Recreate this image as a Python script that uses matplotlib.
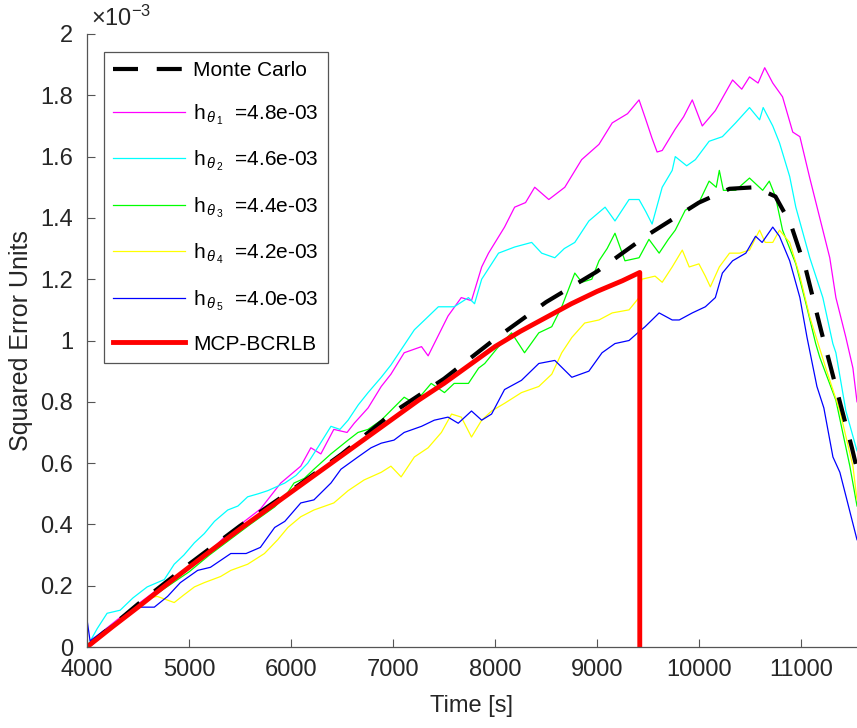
import numpy as np
import matplotlib
matplotlib.use("Agg")
import matplotlib.pyplot as plt
from matplotlib.ticker import FuncFormatter

plt.rcParams['font.family'] = ['Liberation Sans', 'DejaVu Sans']
plt.rcParams['mathtext.fontset'] = 'custom'
plt.rcParams['mathtext.rm'] = 'Liberation Sans'
plt.rcParams['mathtext.it'] = 'Liberation Sans:italic'

# squared error, in units of 1e-3
t_mc = [4000, 4500, 5000, 5500, 6000, 6500, 7000, 7500, 8000, 8500, 9000, 9500,
        10000, 10300, 10550, 10750, 10900, 11050, 11200, 11350, 11500, 11550]
v_mc = [0.0, 0.14, 0.27, 0.395, 0.51, 0.63, 0.765, 0.875, 1.005, 1.125, 1.225, 1.345,
        1.45, 1.495, 1.50, 1.47, 1.38, 1.23, 1.03, 0.84, 0.65, 0.58]

t_h1 = [4000, 4150, 4300, 4500, 4700, 4850, 5000, 5200, 5350, 5505, 5700, 5900, 6096,
        6195, 6293, 6420, 6550, 6620, 6756, 6885, 6980, 7110, 7280, 7345, 7450, 7540,
        7670, 7770, 7870, 7937, 8094, 8193, 8300, 8390, 8528, 8685, 8850, 9020, 9150,
        9300, 9413, 9480, 9540, 9590, 9640, 9768, 9850, 9935, 10033, 10161, 10330,
        10420, 10496, 10580, 10645, 10724, 10820, 10920, 10990, 11087, 11185, 11283,
        11343, 11441, 11510, 11550]
v_h1 = [0.0, 0.05, 0.09, 0.14, 0.19, 0.22, 0.26, 0.31, 0.36, 0.40, 0.45, 0.535, 0.59,
        0.65, 0.63, 0.71, 0.70, 0.73, 0.78, 0.85, 0.89, 0.96, 0.98, 0.95, 1.02, 1.08,
        1.14, 1.13, 1.24, 1.285, 1.37, 1.435, 1.45, 1.50, 1.46, 1.50, 1.59, 1.64, 1.71,
        1.74, 1.785, 1.72, 1.66, 1.615, 1.62, 1.69, 1.73, 1.785, 1.70, 1.75, 1.85,
        1.82, 1.86, 1.84, 1.89, 1.84, 1.795, 1.68, 1.665, 1.53, 1.40, 1.27,
        1.14, 1.01, 0.91, 0.80]

t_h2 = [4000, 4100, 4197, 4325, 4450, 4590, 4758, 4855, 4950, 5053, 5150, 5250, 5380,
        5480, 5575, 5680, 5772, 5940, 6050, 6165, 6280, 6392, 6480, 6560, 6660, 6756,
        6885, 6980, 7080, 7210, 7320, 7445, 7600, 7740, 7800, 7870, 8035, 8193, 8360,
        8458, 8587, 8680, 8783, 8921, 9080, 9177, 9315, 9413, 9480, 9541, 9640, 9738,
        9768, 9880, 9965, 10100, 10230, 10360, 10496, 10595, 10630, 10724, 10790,
        10890, 10950, 11087, 11215, 11313, 11343, 11441, 11550]
v_h2 = [0.0, 0.06, 0.11, 0.12, 0.16, 0.196, 0.22, 0.27, 0.30, 0.34, 0.37, 0.41, 0.447,
        0.46, 0.49, 0.50, 0.51, 0.535, 0.56, 0.60, 0.66, 0.72, 0.71, 0.74, 0.79, 0.83,
        0.88, 0.92, 0.97, 1.035, 1.07, 1.11, 1.11, 1.14, 1.12, 1.20, 1.285, 1.305, 1.32,
        1.285, 1.27, 1.30, 1.32, 1.39, 1.435, 1.39, 1.46, 1.46, 1.42, 1.38, 1.50, 1.555,
        1.60, 1.57, 1.59, 1.65, 1.665, 1.71, 1.76, 1.72, 1.76, 1.70, 1.645,
        1.535, 1.435, 1.27, 1.14, 0.99, 0.96, 0.77, 0.64]

t_h3 = [4000, 4200, 4400, 4600, 4800, 5000, 5200, 5400, 5600, 5840, 5940, 6030, 6130,
        6225, 6392, 6560, 6657, 6756, 6885, 7050, 7110, 7210, 7375, 7505, 7600, 7740,
        7840, 7900, 8035, 8163, 8290, 8430, 8557, 8655, 8783, 8852, 8950, 9020, 9100,
        9177, 9275, 9413, 9510, 9610, 9700, 9768, 9866, 10000, 10100, 10170, 10200,
        10240, 10360, 10496, 10625, 10690, 10750, 10820, 10950, 11050, 11145, 11185,
        11343, 11480, 11550]
v_h3 = [0.0, 0.05, 0.10, 0.155, 0.20, 0.245, 0.30, 0.35, 0.40, 0.457, 0.49, 0.535, 0.55,
        0.58, 0.63, 0.675, 0.70, 0.71, 0.74, 0.795, 0.815, 0.795, 0.86, 0.83, 0.86, 0.86,
        0.91, 0.925, 0.98, 1.025, 0.96, 1.025, 1.045, 1.11, 1.22, 1.19, 1.20, 1.26, 1.30,
        1.35, 1.26, 1.27, 1.33, 1.285, 1.33, 1.36, 1.425, 1.45, 1.52, 1.50, 1.555,
        1.49, 1.49, 1.53, 1.49, 1.52, 1.47, 1.36, 1.25, 1.12, 0.99, 0.945,
        0.805, 0.59, 0.46]

t_h4 = [4000, 4150, 4325, 4500, 4600, 4690, 4855, 4950, 5053, 5150, 5310, 5410, 5575,
        5740, 5870, 5970, 6096, 6225, 6420, 6560, 6717, 6885, 6980, 7080, 7210, 7345,
        7475, 7575, 7670, 7770, 7870, 7967, 8094, 8260, 8430, 8557, 8655, 8754, 8880,
        9020, 9150, 9315, 9413, 9440, 9570, 9640, 9738, 9837, 9905, 10000, 10063, 10112,
        10200, 10300, 10400, 10496, 10595, 10650, 10724, 10790, 10890, 10990, 11087,
        11244, 11382, 11510, 11550]
v_h4 = [0.0, 0.05, 0.09, 0.13, 0.16, 0.165, 0.145, 0.17, 0.196, 0.21, 0.23, 0.25, 0.27,
        0.305, 0.35, 0.39, 0.425, 0.447, 0.47, 0.51, 0.545, 0.57, 0.59, 0.555, 0.62, 0.65,
        0.70, 0.76, 0.75, 0.685, 0.74, 0.77, 0.795, 0.83, 0.85, 0.89, 0.96, 1.01, 1.057,
        1.067, 1.09, 1.10, 1.14, 1.20, 1.21, 1.19, 1.24, 1.295, 1.24, 1.25, 1.21, 1.175,
        1.24, 1.285, 1.285, 1.295, 1.36, 1.32, 1.32, 1.36, 1.32, 1.21, 1.077,
        0.91, 0.77, 0.59, 0.48]

t_h5 = [4000, 4030, 4150, 4325, 4520, 4660, 4790, 4915, 5085, 5210, 5410, 5560, 5700,
        5840, 5940, 6096, 6225, 6392, 6490, 6657, 6785, 6885, 7010, 7110, 7280, 7405,
        7540, 7640, 7770, 7870, 7967, 8094, 8260, 8430, 8587, 8754, 8921, 9050, 9177,
        9315, 9400, 9472, 9610, 9738, 9807, 9935, 10063, 10161, 10230, 10330, 10460,
        10555, 10620, 10724, 10790, 10890, 10990, 11060, 11157, 11225, 11314, 11382,
        11451, 11550]
v_h5 = [0.09, 0.02, 0.05, 0.09, 0.13, 0.13, 0.165, 0.21, 0.25, 0.26, 0.305, 0.305, 0.325,
        0.39, 0.41, 0.47, 0.48, 0.535, 0.58, 0.62, 0.65, 0.665, 0.675, 0.70, 0.72, 0.74,
        0.75, 0.73, 0.77, 0.74, 0.76, 0.84, 0.87, 0.925, 0.935, 0.88, 0.90, 0.96, 0.99,
        1.00, 1.025, 1.045, 1.09, 1.067, 1.067, 1.09, 1.11, 1.14, 1.22, 1.26, 1.285,
        1.34, 1.32, 1.37, 1.34, 1.26, 1.14, 1.01, 0.85, 0.78, 0.62, 0.57,
        0.48, 0.35]

t_bound = [4000, 4250, 4500, 4750, 5000, 5250, 5500, 5750, 6000, 6250, 6500, 6750,
           7000, 7250, 7500, 7750, 8000, 8250, 8500, 8750, 9000, 9250, 9420, 9420]
v_bound = [0.0, 0.066, 0.13, 0.196, 0.26, 0.323, 0.385, 0.445, 0.505, 0.565, 0.625, 0.685,
           0.745, 0.805, 0.86, 0.92, 0.98, 1.03, 1.075, 1.12, 1.16, 1.195, 1.222, 0.0]

h_vals = ['4.8e-03', '4.6e-03', '4.4e-03', '4.2e-03', '4.0e-03']
h_colors = ['#ff00ff', '#00ffff', '#00ff00', '#ffff00', '#0000ff']
h_series = [(t_h1, v_h1), (t_h2, v_h2), (t_h3, v_h3), (t_h4, v_h4), (t_h5, v_h5)]

ink = '#262626'
axc = '#555555'
fig = plt.figure(figsize=(8.57, 7.28), dpi=100)
ax = fig.add_axes([87/857, 1-647/728, 1-87/857, (647-34)/728])

lines = []
for i, ((t, v), c, hv) in enumerate(zip(h_series, h_colors, h_vals)):
    ln, = ax.plot(t, v, color=c, lw=0.9,
                  label=r'h$_{\,\theta_{\,%d}}$  =%s' % (i + 1, hv))
    lines.append(ln)
mc, = ax.plot(t_mc, v_mc, color='black', lw=3, ls=(0, (6, 4.5)), label='Monte Carlo')
bd, = ax.plot(t_bound, v_bound, color='#ff0000', lw=3.5, label='MCP-BCRLB')

ax.set_xlim(4000, 11550)
ax.set_ylim(0, 2)
ax.set_xticks(np.arange(4000, 11001, 1000))
ax.set_yticks(np.arange(0, 2.01, 0.2))
ax.yaxis.set_major_formatter(FuncFormatter(lambda y, _: '%g' % round(y, 1)))
ax.tick_params(direction='in', length=6, width=0.8, colors=axc, labelcolor=ink,
               labelsize=17)
ax.tick_params(axis='x', pad=9)
ax.tick_params(axis='y', pad=10)
for s in ['top', 'right']:
    ax.spines[s].set_visible(False)
for s in ['left', 'bottom']:
    ax.spines[s].set_color(axc)
    ax.spines[s].set_linewidth(0.9)

ax.set_xlabel('Time [s]', fontsize=17, color=ink, labelpad=10)
ax.set_ylabel('Squared Error Units', fontsize=18, color=ink, labelpad=5)
ax.text(0.005, 1.005, r'$\times$10$^{-3}$', transform=ax.transAxes, fontsize=17,
        color=ink, ha='left', va='bottom')

leg = ax.legend(handles=[mc] + lines + [bd], loc='upper left',
                bbox_to_anchor=(17/770, 1-18/613), fontsize=15, frameon=True,
                fancybox=False, framealpha=1, edgecolor=axc, handlelength=3.45,
                handletextpad=0.38, borderaxespad=0, borderpad=0.45,
                labelspacing=1.05)
leg.get_frame().set_linewidth(0.9)

fig.savefig('out.png', dpi=100)
